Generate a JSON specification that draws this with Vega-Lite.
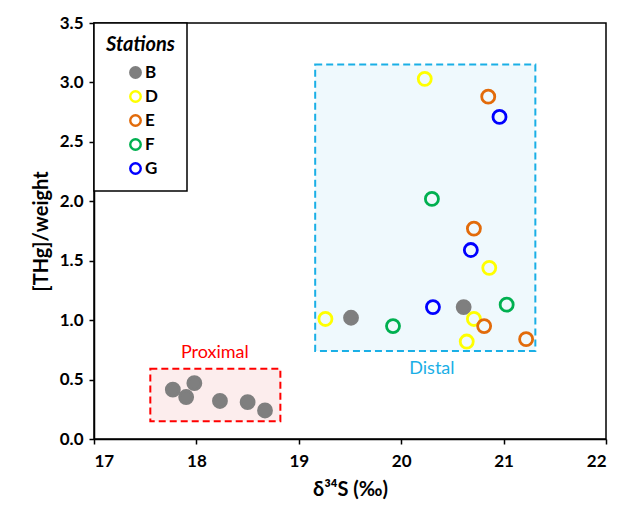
{
  "$schema": "https://vega.github.io/schema/vega-lite/v6.json",
  "width": 512,
  "height": 416,
  "autosize": {"type": "none"},
  "padding": {"left": 94, "top": 23, "right": 13, "bottom": 72},
  "background": "white",
  "datasets": {
    "regions": [
      {"region": "Proximal", "d34S": 17.55, "d34S_end": 18.82, "THg": 0.15, "THg_end": 0.59, "label_x": 18.18, "label_y": 0.72},
      {"region": "Distal", "d34S": 19.16, "d34S_end": 21.31, "THg": 0.74, "THg_end": 3.15, "label_x": 20.3, "label_y": 0.59}
    ],
    "samples": [
      {"Station": "B", "d34S": 17.77, "THg": 0.415},
      {"Station": "B", "d34S": 17.98, "THg": 0.47},
      {"Station": "B", "d34S": 17.9, "THg": 0.353},
      {"Station": "B", "d34S": 18.23, "THg": 0.32},
      {"Station": "B", "d34S": 18.5, "THg": 0.31},
      {"Station": "B", "d34S": 18.67, "THg": 0.24},
      {"Station": "B", "d34S": 19.51, "THg": 1.02},
      {"Station": "B", "d34S": 20.61, "THg": 1.11},
      {"Station": "D", "d34S": 20.23, "THg": 3.03},
      {"Station": "D", "d34S": 20.86, "THg": 1.44},
      {"Station": "D", "d34S": 19.26, "THg": 1.01},
      {"Station": "D", "d34S": 20.71, "THg": 1.01},
      {"Station": "D", "d34S": 20.64, "THg": 0.82},
      {"Station": "E", "d34S": 20.85, "THg": 2.88},
      {"Station": "E", "d34S": 20.71, "THg": 1.77},
      {"Station": "E", "d34S": 20.81, "THg": 0.95},
      {"Station": "E", "d34S": 21.22, "THg": 0.84},
      {"Station": "F", "d34S": 20.3, "THg": 2.02},
      {"Station": "F", "d34S": 19.92, "THg": 0.95},
      {"Station": "F", "d34S": 21.03, "THg": 1.13},
      {"Station": "G", "d34S": 20.96, "THg": 2.71},
      {"Station": "G", "d34S": 20.68, "THg": 1.59},
      {"Station": "G", "d34S": 20.31, "THg": 1.11}
    ]
  },
  "config": {
    "font": "Lato",
    "view": {"stroke": "black", "strokeWidth": 1.5},
    "axis": {
      "grid": false,
      "domainColor": "black",
      "domainWidth": 1.5,
      "tickColor": "black",
      "tickWidth": 1.5,
      "tickSize": 5,
      "labelFont": "Lato",
      "labelFontWeight": "bold",
      "labelFontSize": 17,
      "labelColor": "black",
      "titleFont": "Lato",
      "titleFontWeight": "bold",
      "titleFontSize": 20,
      "titleColor": "black"
    },
    "legend": {
      "orient": "none",
      "legendX": 0,
      "legendY": 0,
      "padding": 12,
      "strokeColor": "black",
      "strokeWidth": 1.5,
      "fillColor": "white",
      "titleFont": "Lato",
      "titleFontSize": 20,
      "titleFontStyle": "italic",
      "titleFontWeight": "bold",
      "titleColor": "black",
      "titlePadding": 9,
      "labelFont": "Lato",
      "labelFontSize": 17,
      "labelFontWeight": "bold",
      "labelColor": "black",
      "labelOffset": 1,
      "symbolOffset": 21,
      "symbolSize": 110,
      "symbolStrokeWidth": 2.4,
      "symbolType": "circle",
      "rowPadding": 3
    }
  },
  "layer": [
    {
      "data": {"name": "regions"},
      "transform": [{"filter": "datum.region === 'Distal'"}],
      "mark": {"type": "rect", "fill": "#EFF9FD", "stroke": "#1AAFE6", "strokeWidth": 2, "strokeDash": [7, 4]},
      "encoding": {
        "x": {"field": "d34S", "type": "quantitative", "scale": {"domain": [17, 22], "nice": false, "zero": false}, "axis": {"title": "δ³⁴S (‰)", "values": [17, 18, 19, 20, 21, 22], "format": "d", "labelPadding": 9, "titlePadding": 10}},
        "x2": {"field": "d34S_end"},
        "y": {"field": "THg", "type": "quantitative", "scale": {"domain": [0, 3.5], "nice": false}, "axis": {"title": "[THg]/weight", "values": [0, 0.5, 1, 1.5, 2, 2.5, 3, 3.5], "format": ".1f", "labelPadding": 6, "titlePadding": 8}},
        "y2": {"field": "THg_end"}
      }
    },
    {
      "data": {"name": "regions"},
      "transform": [{"filter": "datum.region === 'Proximal'"}],
      "mark": {"type": "rect", "fill": "#FCEDED", "stroke": "#FF0000", "strokeWidth": 2, "strokeDash": [7, 4]},
      "encoding": {
        "x": {"field": "d34S", "type": "quantitative"},
        "x2": {"field": "d34S_end"},
        "y": {"field": "THg", "type": "quantitative"},
        "y2": {"field": "THg_end"}
      }
    },
    {
      "data": {"name": "regions"},
      "transform": [{"filter": "datum.region === 'Proximal'"}],
      "mark": {"type": "text", "color": "#FF0000", "font": "Lato", "fontSize": 18, "align": "center", "baseline": "middle"},
      "encoding": {
        "x": {"field": "label_x", "type": "quantitative", "title": "δ³⁴S (‰)"},
        "y": {"field": "label_y", "type": "quantitative", "title": "[THg]/weight"},
        "text": {"field": "region"}
      }
    },
    {
      "data": {"name": "regions"},
      "transform": [{"filter": "datum.region === 'Distal'"}],
      "mark": {"type": "text", "color": "#1AAFE6", "font": "Lato", "fontSize": 18, "align": "center", "baseline": "middle"},
      "encoding": {
        "x": {"field": "label_x", "type": "quantitative", "title": "δ³⁴S (‰)"},
        "y": {"field": "label_y", "type": "quantitative", "title": "[THg]/weight"},
        "text": {"field": "region"}
      }
    },
    {
      "data": {"name": "samples"},
      "mark": {"type": "circle", "size": 170, "strokeWidth": 2.8, "opacity": 1},
      "encoding": {
        "x": {"field": "d34S", "type": "quantitative", "title": "δ³⁴S (‰)"},
        "y": {"field": "THg", "type": "quantitative", "title": "[THg]/weight"},
        "fill": {"field": "Station", "type": "nominal", "title": "Stations", "scale": {"domain": ["B", "D", "E", "F", "G"], "range": ["#7F7F7F", "transparent", "transparent", "transparent", "transparent"]}},
        "stroke": {"field": "Station", "type": "nominal", "title": "Stations", "scale": {"domain": ["B", "D", "E", "F", "G"], "range": ["#7F7F7F", "#FFFF00", "#E26B0A", "#00B050", "#0000FF"]}}
      }
    }
  ]
}
